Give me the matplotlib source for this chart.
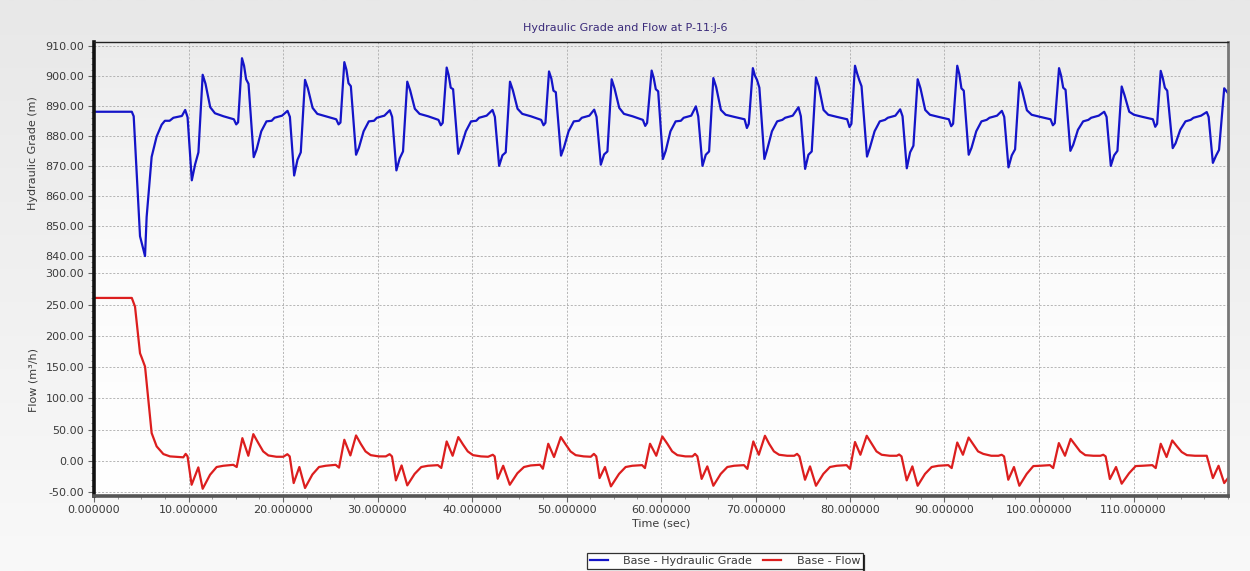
import matplotlib
matplotlib.use("Agg")
import matplotlib.pyplot as plt
import numpy as np
from matplotlib.ticker import MultipleLocator, FormatStrFormatter
from matplotlib.lines import Line2D

# ---------------- data ----------------
title = "Hydraulic Grade and Flow at P-11:J-6"
x_label = "Time (sec)"
hg_label = "Hydraulic Grade (m)"
flow_label = "Flow (m³/h)"
legend_labels = ["Base - Hydraulic Grade", "Base - Flow"]

x_ticks = [0, 10, 20, 30, 40, 50, 60, 70, 80, 90, 100, 110]
hg_ticks = [840, 850, 860, 870, 880, 890, 900, 910]
flow_ticks = [-50, 0, 50, 100, 150, 200, 250, 300]

hg_time = [
    0.0, 4.0, 4.2, 4.87, 5.4, 5.57, 6.1, 6.63, 7.16, 7.5, 8.0, 8.4, 9.3,
    9.65, 9.9, 10.35, 10.7, 11.05, 11.5, 11.8, 12.3, 12.8, 13.7, 14.8, 15.05, 15.25, 15.66, 15.88, 16.1, 16.35, 16.9, 17.2, 17.7, 18.25, 18.8, 19.1, 19.9,
    20.48, 20.73, 21.18, 21.53, 21.88, 22.33, 22.63, 23.13, 23.63, 24.53, 25.63, 25.88, 26.08, 26.49, 26.71, 26.93, 27.18, 27.73, 28.03, 28.53, 29.08, 29.63, 29.93, 30.73,
    31.3, 31.55, 32.0, 32.35, 32.7, 33.15, 33.45, 33.95, 34.45, 35.35, 36.45, 36.7, 36.9, 37.32, 37.53, 37.75, 38.0, 38.55, 38.85, 39.35, 39.9, 40.45, 40.75, 41.55,
    42.17, 42.42, 42.87, 43.22, 43.57, 44.02, 44.32, 44.82, 45.32, 46.22, 47.32, 47.57, 47.77, 48.15, 48.4, 48.62, 48.87, 49.42, 49.72, 50.22, 50.77, 51.32, 51.62, 52.42,
    52.93, 53.18, 53.63, 53.98, 54.33, 54.78, 55.08, 55.58, 56.08, 56.98, 58.08, 58.33, 58.53, 59.01, 59.23, 59.45, 59.7, 60.2, 60.5, 61.0, 61.55, 62.1, 62.4, 63.2,
    63.69, 63.94, 64.39, 64.74, 65.09, 65.54, 65.84, 66.34, 66.84, 67.74, 68.84, 69.09, 69.29, 69.72, 69.94, 70.16, 70.41, 70.94, 71.24, 71.74, 72.29, 72.84, 73.14, 73.94,
    74.55, 74.8, 75.25, 75.6, 75.95, 76.4, 76.7, 77.2, 77.7, 78.6, 79.7, 79.95, 80.15, 80.53, 80.75, 80.97, 81.22, 81.8, 82.1, 82.6, 83.15, 83.7, 84.0, 84.8,
    85.31, 85.56, 86.01, 86.36, 86.71, 87.16, 87.46, 87.96, 88.46, 89.36, 90.46, 90.71, 90.91, 91.35, 91.57, 91.79, 92.04, 92.56, 92.86, 93.36, 93.91, 94.46, 94.76, 95.56,
    96.07, 96.32, 96.77, 97.12, 97.47, 97.92, 98.22, 98.72, 99.22, 100.12, 101.22, 101.47, 101.67, 102.12, 102.34, 102.56, 102.81, 103.32, 103.62, 104.12, 104.67, 105.22, 105.52, 106.32,
    106.9, 107.15, 107.6, 107.95, 108.3, 108.75, 109.05, 109.55, 110.05, 110.95, 112.05, 112.3, 112.5, 112.88, 113.1, 113.32, 113.57, 114.15, 114.45, 114.95, 115.5, 116.05, 116.35, 117.15,
    117.75, 117.95, 118.4, 118.75, 119.05, 119.6, 120.0,
]
hg_values = [
    888.0, 888.0, 886.5, 846.6, 840.0, 853.0, 873.0, 879.8, 883.7, 885.0, 885.0, 886.0, 886.6,
    888.6, 886.2, 865.2, 870.5, 874.5, 900.3, 897.3, 889.5, 887.5, 886.5, 885.5, 883.8, 884.5, 905.8, 903.3, 898.8, 897.3, 872.9, 875.4, 881.5, 884.8, 885.0, 886.0, 886.7,
    888.3, 886.3, 866.8, 872.0, 874.5, 898.6, 895.8, 889.3, 887.3, 886.5, 885.5, 883.8, 884.4, 904.5, 902.0, 897.5, 896.5, 873.7, 876.0, 881.5, 884.8, 885.0, 886.0, 886.7,
    888.5, 886.3, 868.5, 872.5, 874.8, 898.0, 895.2, 889.0, 887.3, 886.5, 885.3, 883.5, 884.3, 902.7, 900.2, 896.0, 895.5, 874.0, 876.5, 881.5, 884.8, 885.0, 886.0, 886.7,
    888.6, 886.3, 870.0, 873.5, 874.5, 898.0, 895.2, 889.0, 887.3, 886.5, 885.3, 883.5, 884.3, 901.4, 899.0, 895.0, 894.5, 873.4, 876.0, 881.5, 884.8, 885.0, 886.0, 886.7,
    888.7, 886.3, 870.4, 873.8, 874.8, 898.8, 895.8, 889.3, 887.3, 886.5, 885.3, 883.3, 884.3, 901.7, 899.2, 895.5, 894.8, 872.3, 875.0, 881.5, 884.8, 885.0, 886.0, 886.7,
    889.8, 886.5, 870.0, 873.7, 874.8, 899.2, 896.2, 888.6, 887.0, 886.3, 885.5, 882.6, 884.0, 902.5, 900.0, 898.6, 896.0, 872.3, 875.5, 881.5, 884.8, 885.3, 886.0, 886.7,
    889.5, 886.5, 869.0, 873.7, 874.8, 899.4, 896.4, 888.6, 887.0, 886.3, 885.5, 882.9, 884.0, 903.3, 900.8, 898.6, 896.5, 873.1, 876.0, 881.5, 884.8, 885.3, 886.0, 886.7,
    888.8, 886.5, 869.2, 874.5, 876.7, 898.8, 895.8, 888.6, 887.0, 886.3, 885.5, 883.2, 884.0, 903.3, 900.5, 895.8, 895.0, 873.7, 876.0, 881.5, 884.8, 885.3, 886.0, 886.7,
    888.3, 886.3, 869.5, 873.5, 875.5, 897.8, 895.0, 888.5, 887.0, 886.3, 885.5, 883.5, 884.2, 902.5, 900.0, 896.0, 895.3, 875.0, 877.0, 882.0, 884.8, 885.3, 886.0, 886.7,
    888.0, 886.3, 870.0, 873.5, 875.0, 896.4, 893.5, 888.0, 887.0, 886.3, 885.5, 883.0, 884.0, 901.6, 899.2, 896.0, 895.0, 875.9, 877.5, 882.0, 884.8, 885.3, 886.0, 886.7,
    887.9, 886.3, 871.0, 873.5, 875.3, 895.8, 894.2,
]

flow_time = [
    0.0, 4.0, 4.34, 4.87, 5.05, 5.4, 5.75, 6.1, 6.63, 7.34, 8.04, 9.45,
    9.7, 9.9, 10.33, 11.04, 11.5, 12.28, 12.98, 13.69, 14.74, 15.1, 15.7, 16.33, 16.86, 17.4, 17.9, 18.45, 19.3, 20.03,
    20.46, 20.71, 21.13, 21.73, 22.33, 23.11, 23.81, 24.52, 25.57, 25.93, 26.49, 27.13, 27.73, 28.23, 28.73, 29.28, 30.13, 30.88,
    31.28, 31.53, 31.95, 32.55, 33.15, 33.93, 34.63, 35.34, 36.39, 36.75, 37.32, 37.95, 38.55, 39.05, 39.55, 40.1, 40.95, 41.7,
    42.2, 42.4, 42.72, 43.3, 44.0, 44.8, 45.5, 46.21, 47.2, 47.5, 48.07, 48.68, 49.4, 49.92, 50.42, 50.97, 51.82, 52.57,
    52.9, 53.15, 53.5, 54.07, 54.7, 55.56, 56.26, 56.97, 58.0, 58.3, 58.84, 59.5, 60.14, 60.68, 61.18, 61.73, 62.58, 63.33,
    63.6, 63.85, 64.3, 64.9, 65.54, 66.32, 67.02, 67.73, 68.78, 69.14, 69.77, 70.35, 71.0, 71.45, 71.95, 72.5, 73.35, 74.1,
    74.4, 74.65, 75.24, 75.77, 76.4, 77.18, 77.88, 78.59, 79.64, 80.0, 80.53, 81.1, 81.77, 82.3, 82.8, 83.35, 84.2, 84.95,
    85.2, 85.45, 86.0, 86.6, 87.16, 87.94, 88.64, 89.35, 90.4, 90.76, 91.35, 91.95, 92.55, 93.05, 93.55, 94.1, 94.95, 95.7,
    96.05, 96.3, 96.75, 97.35, 97.92, 98.7, 99.4, 100.11, 101.16, 101.5, 102.1, 102.75, 103.35, 103.85, 104.35, 104.9, 105.75, 106.5,
    106.8, 107.05, 107.5, 108.15, 108.75, 109.53, 110.23, 110.94, 111.99, 112.35, 112.88, 113.5, 114.1, 114.6, 115.1, 115.65, 116.5, 117.3,
    117.75, 118.4, 119.0, 119.6, 120.0,
]
flow_values = [
    260.5, 260.5, 246.6, 172.0, 165.0, 150.7, 97.5, 44.3, 23.0, 10.7, 7.0, 5.5,
    11.0, 7.0, -38.4, -10.6, -44.8, -22.4, -10.0, -8.0, -6.5, -10.0, 36.2, 8.0, 42.6, 28.0, 15.0, 8.5, 6.4, 6.4,
    10.5, 7.0, -35.7, -10.0, -43.6, -22.0, -10.0, -8.0, -6.5, -11.0, 33.6, 8.5, 40.5, 27.0, 15.0, 9.0, 7.0, 7.0,
    10.5, 7.0, -31.4, -7.5, -39.4, -21.0, -10.0, -8.0, -7.0, -11.5, 30.9, 8.0, 37.9, 26.0, 15.0, 9.0, 7.0, 6.4,
    9.6, 7.0, -28.8, -8.0, -38.4, -20.0, -10.0, -7.5, -6.4, -12.8, 27.2, 6.0, 37.9, 26.0, 15.0, 9.0, 7.0, 6.4,
    11.0, 7.0, -27.7, -10.0, -41.0, -21.0, -10.0, -8.0, -7.0, -11.7, 27.2, 8.0, 38.9, 27.0, 15.0, 9.0, 7.0, 7.0,
    11.0, 7.0, -29.0, -9.0, -40.0, -21.0, -10.0, -8.0, -7.0, -13.0, 30.9, 9.6, 40.0, 27.0, 15.0, 9.6, 8.0, 8.0,
    11.0, 7.0, -30.4, -9.0, -40.0, -21.0, -10.0, -8.0, -7.0, -13.0, 30.0, 9.6, 40.0, 27.0, 15.0, 9.6, 8.0, 8.0,
    10.0, 7.0, -31.4, -9.0, -40.0, -21.0, -10.0, -8.0, -7.0, -11.7, 29.2, 9.6, 37.2, 26.0, 15.0, 11.0, 8.0, 8.0,
    9.6, 7.0, -30.4, -10.0, -40.0, -21.0, -8.5, -8.0, -7.0, -11.7, 28.3, 8.0, 35.0, 25.0, 15.0, 9.0, 8.0, 8.0,
    9.6, 7.0, -29.2, -10.0, -36.7, -20.0, -8.5, -8.0, -7.0, -11.7, 27.2, 6.0, 32.5, 23.0, 14.0, 9.0, 8.0, 8.0,
    8.0, -27.7, -8.0, -35.7, -27.7,
]

# ---------------- styling ----------------
W, H = 1250, 571
BLUE = "#1414c8"
RED = "#dc1e1e"
TXT = "#3a3a3a"
GRID = "#ababab"
plt.rcParams["font.family"] = ["DejaVu Sans"]

fig = plt.figure(figsize=(W / 100, H / 100), dpi=100)

# figure background gradient
bg = fig.add_axes([0, 0, 1, 1], zorder=-10)
g = np.linspace(0, 1, 256).reshape(-1, 1)
bg.imshow(g, extent=[0, 1, 0, 1], aspect="auto", cmap=matplotlib.colors.LinearSegmentedColormap.from_list(
    "bgc", ["#f9f9f9", "#e8e8e8"]), origin="lower")
bg.set_axis_off()

def fx(px):
    return px / W

def fy(py):
    return 1 - py / H

left_px, right_px = 94, 1228
top_px, mid_px, bot_px = 42, 264.5, 495.7
frame_rect = [fx(left_px), fy(bot_px), fx(right_px - left_px), (bot_px - top_px) / H]

# plot-area gradient background
pbg = fig.add_axes(frame_rect, zorder=-5)
pbg.imshow(g, extent=[0, 1, 0, 1], aspect="auto", cmap=matplotlib.colors.LinearSegmentedColormap.from_list(
    "fc", ["#ffffff", "#fbfbfb", "#ececec"]), origin="lower")
pbg.set_axis_off()

ax1 = fig.add_axes([fx(left_px), fy(mid_px), fx(right_px - left_px), (mid_px - top_px) / H])
ax2 = fig.add_axes([fx(left_px), fy(bot_px), fx(right_px - left_px), (bot_px - mid_px) / H])

for ax in (ax1, ax2):
    ax.set_facecolor("none")
    for s in ax.spines.values():
        s.set_visible(False)
    ax.set_xlim(0, 120)
    ax.set_xticks(x_ticks)
    ax.xaxis.set_minor_locator(MultipleLocator(2.5))
    ax.grid(True, which="major", color=GRID, linestyle=(0, (2.5, 2)), linewidth=0.6)
    ax.tick_params(axis="both", which="major", length=4, width=0.8, color="#666666",
                   labelsize=8, labelcolor=TXT, pad=3)
    ax.tick_params(axis="both", which="minor", length=2.5, width=0.6, color="#888888")

ax1.plot(hg_time, hg_values, color=BLUE, linewidth=1.6, solid_joinstyle="round", zorder=3)
ax2.plot(flow_time, flow_values, color=RED, linewidth=1.6, solid_joinstyle="round", zorder=3)

ax1.set_ylim(837.2, 911.2)
ax1.set_yticks(hg_ticks)
ax1.yaxis.set_minor_locator(MultipleLocator(2))
ax1.yaxis.set_major_formatter(FormatStrFormatter("%.2f"))
ax1.tick_params(axis="x", which="both", bottom=False, labelbottom=False)

ax2.set_ylim(-55.9, 314)
ax2.set_yticks(flow_ticks)
ax2.yaxis.set_minor_locator(MultipleLocator(10))
ax2.yaxis.set_major_formatter(FormatStrFormatter("%.2f"))
ax2.xaxis.set_major_formatter(FormatStrFormatter("%.6f"))

ax1.set_ylabel(hg_label, fontsize=8, color=TXT, labelpad=4)
ax2.set_ylabel(flow_label, fontsize=8, color=TXT, labelpad=4)
ax1.yaxis.set_label_coords(-0.049, 0.5)
ax2.yaxis.set_label_coords(-0.049, 0.5)
ax2.set_xlabel(x_label, fontsize=8, color=TXT, labelpad=2)

# frame drawn on top of everything
frame = fig.add_axes(frame_rect, zorder=10)
frame.set_facecolor("none")
frame.set_xticks([])
frame.set_yticks([])
frame.spines["left"].set_linewidth(2.6)
frame.spines["left"].set_color("#111111")
frame.spines["bottom"].set_linewidth(2.6)
frame.spines["bottom"].set_color("#555555")
frame.spines["top"].set_linewidth(1.0)
frame.spines["top"].set_color("#222222")
frame.spines["right"].set_linewidth(2.0)
frame.spines["right"].set_color("#777777")

fig.text(0.5, fy(28), title, ha="center", va="center", fontsize=8, color="#3a2a7a")

handles = [Line2D([], [], color=BLUE, linewidth=1.6), Line2D([], [], color=RED, linewidth=1.6)]
leg = fig.legend(handles, legend_labels, loc="center", bbox_to_anchor=(fx(725), fy(561)),
                 ncol=2, fontsize=8, frameon=True, fancybox=False, shadow=False,
                 handlelength=1.6, handletextpad=1.4, columnspacing=1.0,
                 borderpad=0.25, borderaxespad=0.0, edgecolor="#000000", facecolor="#ffffff",
                 labelcolor=TXT)
leg.get_frame().set_linewidth(0.9)
# thin shadow on the right/bottom edge of the legend box, like the reference
fig.canvas.draw()
bb = leg.get_window_extent().transformed(fig.transFigure.inverted())
fig.add_artist(Line2D([bb.x1 + 0.0012, bb.x1 + 0.0012], [bb.y0 - 0.002, bb.y1 - 0.004],
                      transform=fig.transFigure, color="#333333", linewidth=1.6))

fig.savefig("out.png", dpi=100)
